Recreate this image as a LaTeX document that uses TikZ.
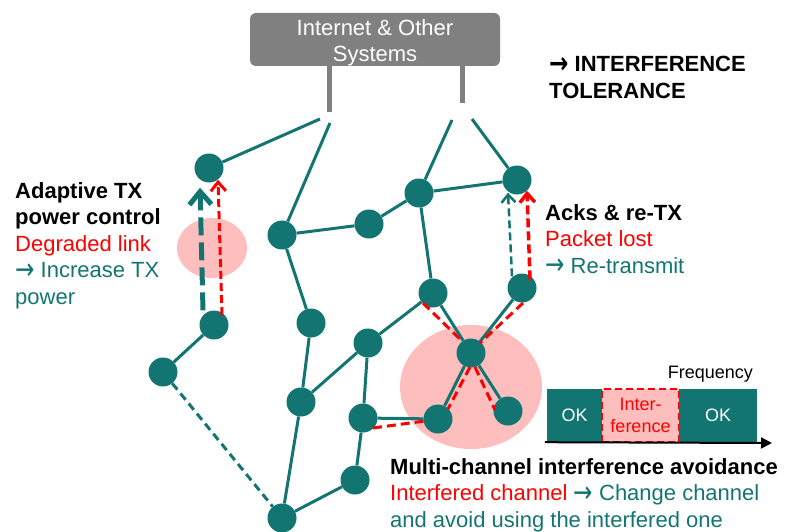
\documentclass[tikz,border=0pt]{standalone}
\usepackage{fontspec}
\usepackage{graphicx}
\setmainfont{Liberation Sans}
\newfontfamily\fleche{DejaVu Sans}
\usetikzlibrary{arrows.meta}
\definecolor{sarcelle}{RGB}{19,117,114}
\definecolor{rose}{RGB}{255,190,190}
\definecolor{gris}{RGB}{128,128,128}
\newcommand{\grand}{\fontsize{22}{26.5}\selectfont}
\newcommand{\petit}{\fontsize{18}{21.5}\selectfont}
\newcommand{\fl}{\raisebox{-0.08em}{\scalebox{1.05}[1.35]{\fleche →}}}

\begin{document}
\begin{tikzpicture}[x=1pt,y=-1pt,
  noeud/.style={circle,fill=sarcelle,minimum size=29pt,inner sep=0pt},
  lien/.style={draw=sarcelle,line width=3pt},
  rouge/.style={draw=red,line width=3pt,dash pattern=on 9pt off 5pt},
  texte/.style={anchor=north west,inner sep=0pt,align=left,font=\grand},
  canal/.style={rectangle,minimum width=55pt,minimum height=53pt,inner sep=0pt,font=\petit}]
\useasboundingbox (0,0) rectangle (789,532);
% zones perturbees
\fill[rose] (212,248) ellipse [x radius=35,y radius=30];
\fill[rose] (471,387) ellipse [x radius=71,y radius=62];
\node[rectangle,rounded corners=6pt,fill=gris,minimum width=250pt,minimum height=53pt] (g) at (375,39.5) {};
\node[anchor=north,inner sep=0pt,text=white,align=center,font=\fontsize{22}{26}\selectfont] (gt) at (375,19) {Internet \& Other\\Systems};
\draw[gris,line width=5pt] ([xshift=-45.5pt]g.south) -- ++(0,46);
\draw[gris,line width=5pt] ([xshift=87pt]g.south) -- ++(0,37);
\coordinate (s1) at (320,119);
\coordinate (s2) at (330,123);
\coordinate (s3) at (452,120);
\coordinate (s4) at (472,119);
\node[noeud] (n1) at (209,168) {};
\node[noeud] (n2) at (282,235) {};
\node[noeud] (n3) at (369,224) {};
\node[noeud] (n4) at (419,193) {};
\node[noeud] (n5) at (517,180) {};
\node[noeud] (n6) at (433,293) {};
\node[noeud] (n7) at (522,288) {};
\node[noeud] (n8) at (214,325) {};
\node[noeud] (n9) at (163,372) {};
\node[noeud] (n10) at (311,323) {};
\node[noeud] (n11) at (301,402) {};
\node[noeud] (n12) at (368,343) {};
\node[noeud] (n13) at (363,418) {};
\node[noeud] (n14) at (355,480) {};
\node[noeud] (n15) at (282,518) {};
\node[noeud] (n16) at (471,353) {};
\node[noeud] (n17) at (438,419) {};
\node[noeud] (n18) at (508,411) {};
\draw[lien] (n1) -- (s1);
\draw[lien] (n2) -- (s2);
\draw[lien] (n4) -- (s3);
\draw[lien] (n5) -- (s4);
\draw[lien] (n2) -- (n3) -- (n4) -- (n5);
\draw[lien] (n2) -- (n10) -- (n11) -- (n15) -- (n14) -- (n13) -- (n12) -- (n11);
\draw[lien] (n4) -- (n6) -- (n12);
\draw[lien] (n6) -- (n16) -- (n7);
\draw[lien] (n16) -- (n17) -- (n13);
\draw[lien] (n16) -- (n18);
\draw[lien] (n8) -- (n9);
\draw[lien,dash pattern=on 8pt off 5pt] (n9) -- (n15);
% liens interferes
\draw[rouge] ([shift={(-10,10)}]n6.center) -- ([shift={(-8,-11)}]n16.center);
\draw[rouge] ([shift={(1,15)}]n7.center) -- ([shift={(9,-10)}]n16.center);
\draw[rouge] ([shift={(-1,14)}]n16.center) -- ([shift={(10,-10)}]n17.center);
\draw[rouge] ([shift={(4,14)}]n16.center) -- ([shift={(-13,-1)}]n18.center);
\draw[rouge] ([shift={(10,10)}]n13.center) -- ([shift={(-13,2)}]n17.center);
% fleches
\draw[sarcelle,line width=5pt,dash pattern=on 18pt off 7pt,-{Straight Barb[length=13pt,width=22pt]}] ([xshift=-11pt]n8.north) -- ([shift={(-9,5)}]n1.south);
\draw[red,line width=3pt,dash pattern=on 8pt off 4pt,-{Straight Barb[length=9pt,width=15pt]}] ([shift={(8,-10)}]n8.center) -- ([shift={(9,-3)}]n1.south);
\draw[sarcelle,line width=2.5pt,dash pattern=on 8pt off 4pt,-{Straight Barb[length=8pt,width=14pt]}] ([shift={(-10,3)}]n7.north) -- ([shift={(-9,-2)}]n5.south);
\draw[red,line width=3.5pt,dash pattern=on 9pt off 4pt,-{Straight Barb[length=9pt,width=15pt]}] ([shift={(8,6)}]n7.north) -- ([shift={(10,-4)}]n5.south);
% textes
\node[texte] (t1) at (15,182) {\textbf{Adaptive TX}\\\textbf{power control}\\\textcolor{red}{Degraded link}\\\textcolor{sarcelle}{\fl\ Increase TX}\\\textcolor{sarcelle}{power}};
\node[texte] (t2) at (549,56) {\textbf{\fl\ INTERFERENCE}\\\textbf{TOLERANCE}};
\node[texte] (t3) at (545,204) {\textbf{Acks \& re-TX}\\\textcolor{red}{Packet lost}\\\textcolor{sarcelle}{\fl\ Re-transmit}};
\node[texte] (t4) at (390,458) {\textbf{Multi-channel interference avoidance}\\\textcolor{red}{Interfered channel} \textcolor{sarcelle}{\fl\ Change channel}\\\textcolor{sarcelle}{and avoid using the interfered one}};
% canaux
\node[anchor=base east,inner sep=0pt,font=\petit] (fr) at (753,378) {Frequency};
\node[canal,fill=sarcelle,text=white] (f1) at (574.5,415.5) {OK};
\node[canal,right of=f1,node distance=66pt,minimum width=77pt,fill=rose,draw=red,line width=2.5pt,dash pattern=on 7pt off 4pt,text=red,align=center] (f2) {Inter-\\ference};
\node[canal,right of=f2,node distance=77.5pt,minimum width=78pt,fill=sarcelle,text=white] (f3) {OK};
\coordinate (axe) at (772,443);
\draw[line width=2pt,-{Triangle[length=11pt,width=11pt]}] ([xshift=-2pt]f1.south west) -- (axe);
\end{tikzpicture}
\end{document}
